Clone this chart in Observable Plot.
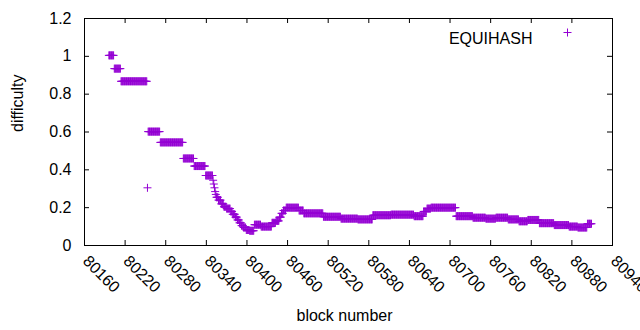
<!DOCTYPE html>
<html>
<head>
<meta charset="utf-8">
<script src="https://cdn.jsdelivr.net/npm/d3@7"></script>
<script src="https://cdn.jsdelivr.net/npm/@observablehq/plot@0.6"></script>
<style>
  html, body { margin: 0; padding: 0; background: #fff; }
  #chart svg { display: block; }
</style>
</head>
<body>
<div id="chart"></div>
<script>
// Run-length encoded readings: each block from runStart[i] to runEnd[i] has difficulty runValue[i]
const runStart = [80196, 80204, 80214, 80253, 80254, 80272, 80306, 80322, 80339,
  80350, 80351, 80352, 80353, 80354, 80355, 80358, 80362, 80366, 80370, 80376, 80379,
  80383, 80386, 80389, 80392, 80395, 80399, 80404, 80411, 80421, 80437, 80443, 80448,
  80451, 80454, 80458, 80477, 80484, 80513, 80539, 80564, 80586, 80613, 80647, 80661,
  80666, 80672, 80709, 80734, 80753, 80768, 80786, 80802, 80815, 80832, 80854, 80876,
  80889, 80903];
const runEnd = [80203, 80213, 80252, 80253, 80271, 80305, 80321, 80338, 80349,
  80350, 80351, 80352, 80353, 80354, 80357, 80361, 80365, 80369, 80375, 80378, 80382,
  80385, 80388, 80391, 80394, 80398, 80403, 80410, 80420, 80436, 80442, 80447, 80450,
  80453, 80457, 80476, 80483, 80512, 80538, 80563, 80585, 80612, 80646, 80660, 80665,
  80671, 80708, 80733, 80752, 80767, 80785, 80801, 80814, 80831, 80853, 80875, 80888,
  80902, 80909];
const runValue = [1.005, 0.935, 0.868, 0.305, 0.602, 0.545, 0.46, 0.42, 0.37,
  0.345, 0.325, 0.305, 0.285, 0.27, 0.255, 0.24, 0.22, 0.205, 0.195, 0.18, 0.165,
  0.15, 0.135, 0.12, 0.105, 0.095, 0.082, 0.078, 0.11, 0.1, 0.12, 0.13, 0.15,
  0.17, 0.185, 0.2, 0.185, 0.17, 0.152, 0.142, 0.138, 0.16, 0.163, 0.155, 0.18,
  0.195, 0.2, 0.155, 0.147, 0.142, 0.147, 0.138, 0.128, 0.135, 0.118, 0.108, 0.1,
  0.095, 0.115];

const xTicks = [80160, 80220, 80280, 80340, 80400, 80460, 80520, 80580, 80640, 80700, 80760, 80820, 80880, 80940];
const yTicks = [0, 0.2, 0.4, 0.6, 0.8, 1, 1.2];
const yTickLabels = ["0", "0.2", "0.4", "0.6", "0.8", "1", "1.2"];
const seriesName = "EQUIHASH";
const xLabel = "block number";
const yLabel = "difficulty";

const points = [];
runStart.forEach((s, i) => {
  for (let b = s; b <= runEnd[i]; b++) points.push({block: b, difficulty: runValue[i]});
});

const color = "#9400d3";
const plusSymbol = {
  draw(ctx, size) {
    const r = Math.sqrt(size / Math.PI);
    ctx.moveTo(-r, 0); ctx.lineTo(r, 0);
    ctx.moveTo(0, -r); ctx.lineTo(0, r);
  }
};

const chart = Plot.plot({
  width: 640,
  height: 330,
  marginLeft: 84,
  marginRight: 28,
  marginTop: 18,
  marginBottom: 85,
  x: {domain: [80160, 80940], axis: null},
  y: {domain: [0, 1.2], axis: null},
  style: {fontFamily: "'Liberation Sans', Arial, sans-serif", fontSize: "16px", background: "#fff", color: "#000"},
  marks: [
    Plot.frame({stroke: "#000", strokeWidth: 1}),
    Plot.ruleX(xTicks, {x: d => d, y1: 0, y2: 0, insetBottom: 5, stroke: "#000"}),
    Plot.ruleX(xTicks, {x: d => d, y1: 1.2, y2: 1.2, insetTop: 5, stroke: "#000"}),
    Plot.ruleY(yTicks, {y: d => d, x1: 80160, x2: 80160, insetRight: -5, stroke: "#000"}),
    Plot.ruleY(yTicks, {y: d => d, x1: 80940, x2: 80940, insetLeft: -5, stroke: "#000"}),
    Plot.axisY(yTicks, {tickSize: 0, tickPadding: 13, tickFormat: d => yTickLabels[yTicks.indexOf(d)], label: null, fontSize: 16}),
    Plot.text(xTicks, {x: d => d, frameAnchor: "bottom", text: d => String(d), rotate: 45, textAnchor: "start", lineAnchor: "middle", dx: 1, dy: 13, fontSize: 16}),
    Plot.text([xLabel], {frameAnchor: "bottom", text: d => d, dx: -4, dy: 75, fontSize: 16}),
    Plot.text([yLabel], {frameAnchor: "left", text: d => d, rotate: -90, dx: -67, fontSize: 16}),
    Plot.dot(points, {x: "block", y: "difficulty", symbol: plusSymbol, r: 4, fill: "none", stroke: color, strokeWidth: 1}),
    Plot.text([seriesName], {frameAnchor: "top-right", text: d => d, textAnchor: "end", dx: -80, dy: 14, fontSize: 16}),
    Plot.dot([seriesName], {frameAnchor: "top-right", symbol: plusSymbol, r: 4, fill: "none", stroke: color, strokeWidth: 1, dx: -45, dy: 14})
  ]
});
document.getElementById("chart").appendChild(chart);
</script>
</body>
</html>
